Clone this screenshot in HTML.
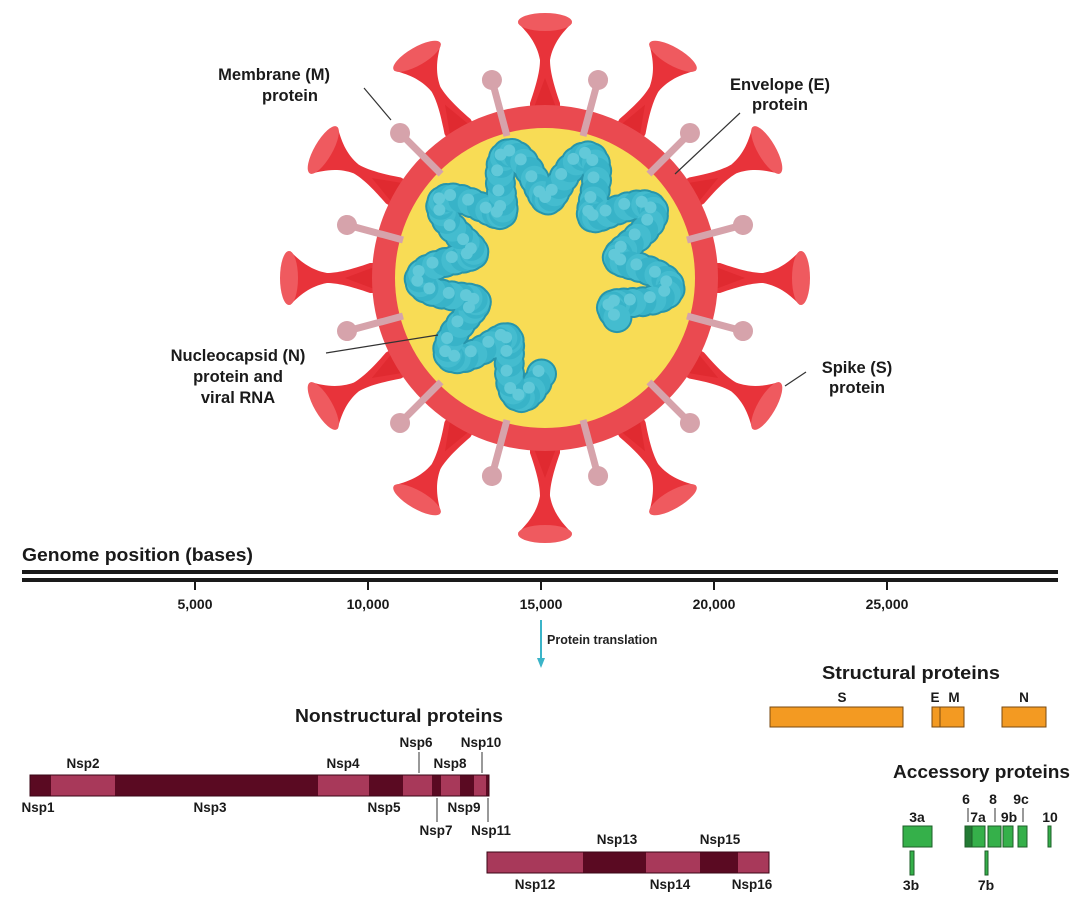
<!DOCTYPE html>
<html><head><meta charset="utf-8"><style>
html,body{margin:0;padding:0;background:#fff;}
svg{display:block;font-family:"Liberation Sans",Arial,sans-serif;}
.l{font-weight:bold;font-size:16.5px;fill:#1a1a1a;}
.t{font-weight:bold;font-size:18px;fill:#1a1a1a;}
.s{font-weight:bold;font-size:13.5px;fill:#1a1a1a;}
</style></head><body>
<svg id="sv" width="1086" height="920" viewBox="0 0 1086 920" xmlns="http://www.w3.org/2000/svg">
<defs>
<g id="spike">
<path d="M-15,-150 L15,-150 L15,-175 C8,-195 5,-208 5,-218 C8,-235 18,-246 27,-255 L-27,-255 C-18,-246 -8,-235 -5,-218 C-5,-208 -8,-195 -15,-175 Z" fill="#e8333a"/>
<path d="M-15,-160 L15,-160 L0,-200 Z" fill="#e02a30"/>
<ellipse cx="0" cy="-256" rx="27" ry="9" fill="#ef5a5f"/>
</g>
<g id="mp">
<rect x="-3.5" y="-205" width="7" height="58" fill="#d6a3ab"/>
<circle cx="0" cy="-205" r="10" fill="#d6a3ab"/>
</g>
</defs>
<g id="virus" transform="translate(545,278)">
<g id="spikes"></g>
<circle r="173" fill="#ea4a50"/>
<circle r="150" fill="#f8dc55"/>
<g id="mps"></g>
<g id="rna"></g>
</g>
<text class="l" x="330" y="80" text-anchor="end">Membrane (M)</text>
<text class="l" x="290" y="101" text-anchor="middle">protein</text>
<line x1="364" y1="88" x2="391" y2="120" stroke="#333" stroke-width="1.2"/>
<text class="l" x="780" y="90" text-anchor="middle">Envelope (E)</text>
<text class="l" x="780" y="110" text-anchor="middle">protein</text>
<line x1="740" y1="113" x2="675" y2="174" stroke="#333" stroke-width="1.2"/>
<text class="l" x="238" y="361" text-anchor="middle">Nucleocapsid (N)</text>
<text class="l" x="238" y="382" text-anchor="middle">protein and</text>
<text class="l" x="238" y="403" text-anchor="middle">viral RNA</text>
<line x1="326" y1="353" x2="438" y2="335" stroke="#333" stroke-width="1.2"/>
<text class="l" x="857" y="373" text-anchor="middle">Spike (S)</text>
<text class="l" x="857" y="393" text-anchor="middle">protein</text>
<line x1="806" y1="372" x2="785" y2="386" stroke="#333" stroke-width="1.2"/>
<text class="t" x="22" y="561" textLength="231" lengthAdjust="spacingAndGlyphs">Genome position (bases)</text>
<rect x="22" y="570" width="1036" height="4" fill="#1a1a1a"/>
<rect x="22" y="578" width="1036" height="4" fill="#1a1a1a"/>
<g stroke="#1a1a1a" stroke-width="2">
<line x1="195" y1="582" x2="195" y2="590"/><line x1="368" y1="582" x2="368" y2="590"/>
<line x1="541" y1="582" x2="541" y2="590"/><line x1="714" y1="582" x2="714" y2="590"/>
<line x1="887" y1="582" x2="887" y2="590"/></g>
<g class="s" text-anchor="middle" style="font-size:14px">
<text x="195" y="609">5,000</text><text x="368" y="609">10,000</text><text x="541" y="609">15,000</text><text x="714" y="609">20,000</text><text x="887" y="609">25,000</text></g>
<line x1="541" y1="620" x2="541" y2="662" stroke="#3bb4c8" stroke-width="2"/>
<path d="M537,658 L545,658 L541,668 Z" fill="#3bb4c8"/>
<text x="547" y="644" style="font-size:12.5px;font-weight:bold" fill="#222">Protein translation</text>
<text class="t" x="822" y="679" textLength="178" lengthAdjust="spacingAndGlyphs">Structural proteins</text>
<g fill="#f39a22" stroke="#7a4a10" stroke-width="1">
<rect x="770" y="707" width="133" height="20"/><rect x="932" y="707" width="8" height="20"/><rect x="940" y="707" width="24" height="20"/><rect x="1002" y="707" width="44" height="20"/></g>
<g class="s" text-anchor="middle"><text x="842" y="702">S</text><text x="935" y="702">E</text><text x="954" y="702">M</text><text x="1024" y="702">N</text></g>
<text class="t" x="295" y="722" textLength="208" lengthAdjust="spacingAndGlyphs">Nonstructural proteins</text>
<g id="bar1"></g>
<g class="s" text-anchor="middle">
<text x="83" y="768">Nsp2</text><text x="343" y="768">Nsp4</text><text x="416" y="747">Nsp6</text><text x="481" y="747">Nsp10</text><text x="450" y="768">Nsp8</text>
<text x="38" y="812">Nsp1</text><text x="210" y="812">Nsp3</text><text x="384" y="812">Nsp5</text><text x="464" y="812">Nsp9</text><text x="436" y="835">Nsp7</text><text x="491" y="835">Nsp11</text>
<text x="617" y="844">Nsp13</text><text x="720" y="844">Nsp15</text><text x="535" y="889">Nsp12</text><text x="670" y="889">Nsp14</text><text x="752" y="889">Nsp16</text>
</g>
<g stroke="#333" stroke-width="1"><line x1="419" y1="752" x2="419" y2="773"/><line x1="482" y1="752" x2="482" y2="773"/><line x1="437" y1="798" x2="437" y2="822"/><line x1="488" y1="798" x2="488" y2="822"/></g>
<text class="t" x="893" y="778" textLength="177" lengthAdjust="spacingAndGlyphs">Accessory proteins</text>
<g fill="#35b04a" stroke="#1d5e28" stroke-width="1">
<rect x="903" y="826" width="29" height="21"/><rect x="910" y="851" width="4" height="24"/>
<rect x="965" y="826" width="7" height="21" fill="#237a34"/><rect x="972" y="826" width="13" height="21"/>
<rect x="988" y="826" width="13" height="21"/><rect x="1003" y="826" width="10" height="21"/>
<rect x="1018" y="826" width="9" height="21"/><rect x="1048" y="826" width="3" height="21"/>
<rect x="985" y="851" width="3" height="24"/></g>
<g stroke="#333" stroke-width="1"><line x1="968" y1="808" x2="968" y2="822"/><line x1="995" y1="808" x2="995" y2="822"/><line x1="1023" y1="808" x2="1023" y2="822"/></g>
<g class="s" text-anchor="middle" style="font-size:14px">
<text x="917" y="822">3a</text><text x="966" y="804">6</text><text x="993" y="804">8</text><text x="1021" y="804">9c</text>
<text x="978" y="822">7a</text><text x="1009" y="822">9b</text><text x="1050" y="822">10</text><text x="911" y="890">3b</text><text x="986" y="890">7b</text></g>
</svg>
<script>
var NS="http://www.w3.org/2000/svg";
function el(p,n,a){var e=document.createElementNS(NS,n);for(var k in a)e.setAttribute(k,a[k]);p.appendChild(e);return e;}
var sp=document.getElementById("spikes"),mp=document.getElementById("mps"),rna=document.getElementById("rna");
for(var i=0;i<12;i++){el(sp,"use",{href:"#spike",transform:"rotate("+(i*30)+")"});el(mp,"use",{href:"#mp",transform:"rotate("+(i*30+15)+")"});}
var pts=[];
for(var d=92;d<=392;d+=2.2){var a=d*Math.PI/180;var r=100+26*Math.sin((d-92)*Math.PI/180*9.5);
 pts.push([r*Math.cos(a),r*Math.sin(a)-4]);}
pts.forEach(function(p){el(rna,"circle",{cx:p[0],cy:p[1],r:15.5,fill:"#2795ab"});});
pts.forEach(function(p,j){el(rna,"circle",{cx:p[0],cy:p[1],r:13.5,fill:j%2?"#38b3c8":"#44bccf"});});
pts.forEach(function(p,j){if(j%2==0)el(rna,"circle",{cx:p[0]-3,cy:p[1]-3,r:6,fill:"#62c9d9"});});
var b1=document.getElementById("bar1"),D="#5a0a22",L="#a8395a";
var s1=[30,51,115,318,369,403,432,441,460,474,486,489];
for(var i=0;i<s1.length-1;i++)el(b1,"rect",{x:s1[i],y:775,width:s1[i+1]-s1[i],height:21,fill:i%2?L:D});
var s2=[487,583,646,700,738,769];
for(var i=0;i<s2.length-1;i++)el(b1,"rect",{x:s2[i],y:852,width:s2[i+1]-s2[i],height:21,fill:i%2?D:L});
el(b1,"rect",{x:30,y:775,width:459,height:21,fill:"none",stroke:"#3a0515","stroke-width":1});
el(b1,"rect",{x:487,y:852,width:282,height:21,fill:"none",stroke:"#3a0515","stroke-width":1});
</script>
</body></html>
